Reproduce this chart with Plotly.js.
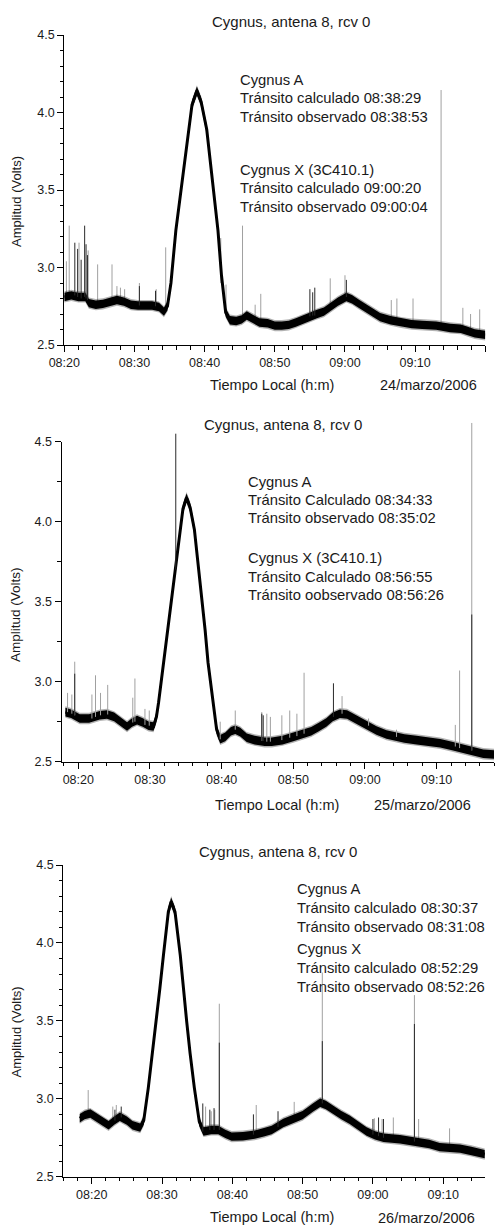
<!DOCTYPE html>
<html><head><meta charset="utf-8">
<script src="https://cdn.plot.ly/plotly-3.0.1.min.js"></script>
<style>html,body{margin:0;padding:0;background:#fff}#chart{width:500px;height:1227px}</style>
</head><body><div id="chart"></div>
<script>
// ---- Data (time = minutes after 08:00 local, amplitude in volts) ----
// Panel 1: 24/marzo/2006
const T1 = [20.0,21.0,22.0,23.0,23.5,24.5,25.5,26.5,27.5,28.5,29.5,30.5,31.5,32.5,33.5,34.2,34.7,35.2,35.9,36.5,37.0,37.7,38.2,38.9,39.5,40.3,41.0,41.9,42.4,43.0,43.6,44.5,45.3,46.0,46.8,47.8,49.0,50.0,51.0,52.0,53.0,54.0,55.0,56.0,57.0,58.0,59.0,60.2,61.0,62.0,63.5,65.0,66.5,68.0,69.5,71.0,73.0,75.0,76.5,77.5,78.5,80.0];
const V1 = [2.81,2.82,2.81,2.81,2.77,2.76,2.765,2.78,2.79,2.78,2.76,2.755,2.755,2.755,2.745,2.715,2.75,2.90,3.24,3.45,3.62,3.89,4.05,4.14,4.07,3.89,3.62,3.24,2.95,2.71,2.66,2.655,2.665,2.69,2.67,2.645,2.64,2.625,2.625,2.63,2.645,2.665,2.685,2.70,2.715,2.745,2.78,2.81,2.795,2.765,2.725,2.68,2.66,2.645,2.635,2.63,2.625,2.61,2.605,2.59,2.575,2.565];
const SPIKE1_T  = [20.3,20.7,22.1,23.4,24.75,26.8,27.5,28.0,28.6,30.7,33.1,34.45,42.3,43.05,45.4,47.2,48.0,57.9,60.0,66.6,67.4,69.7,73.7,76.8,77.9,79.2];
const SPIKE1_LO = [2.81,2.82,2.81,2.78,2.76,2.78,2.79,2.79,2.78,2.755,2.75,2.73,2.90,2.71,2.665,2.65,2.645,2.74,2.81,2.66,2.65,2.635,2.625,2.605,2.59,2.57];
const SPIKE1_HI = [3.04,3.27,3.16,3.11,3.02,3.02,2.88,2.87,2.86,2.90,2.86,3.13,3.19,2.89,3.27,2.76,2.83,2.93,2.95,2.79,2.80,2.80,4.145,2.74,2.70,2.73];
const DARK1_T  = [21.5,21.9,22.4,22.9,23.1,23.3,30.7,33.0,55.0,55.4,55.7,60.2];
const DARK1_LO = [2.82,2.81,2.80,2.81,2.80,2.79,2.755,2.75,2.685,2.69,2.69,2.81];
const DARK1_HI = [3.16,3.12,3.05,3.27,3.15,3.08,2.88,2.85,2.86,2.84,2.87,2.92];

// Panel 2: 25/marzo/2006
const T2 = [18.2,19.0,20.2,21.5,23.0,24.0,25.0,26.0,26.8,27.5,28.2,29.0,29.8,30.5,30.9,31.2,31.9,32.4,33.0,33.6,34.2,34.6,35.1,35.6,36.2,36.7,37.2,37.7,38.1,38.8,39.3,39.8,40.5,41.3,41.9,42.6,43.5,44.6,46.0,47.0,48.5,50.0,51.5,52.5,53.5,54.6,55.5,56.5,57.5,58.5,59.5,60.5,61.6,63.0,64.0,65.5,67.2,69.0,70.5,72.0,73.3,75.1,76.5,78.0];
const V2 = [2.81,2.80,2.77,2.77,2.79,2.795,2.78,2.745,2.72,2.745,2.76,2.745,2.725,2.72,2.78,2.87,3.12,3.32,3.53,3.76,3.95,4.08,4.15,4.09,3.95,3.75,3.53,3.32,3.12,2.87,2.70,2.64,2.655,2.69,2.70,2.685,2.65,2.635,2.625,2.625,2.635,2.655,2.675,2.69,2.715,2.745,2.78,2.80,2.795,2.77,2.75,2.725,2.695,2.67,2.66,2.645,2.635,2.625,2.615,2.60,2.585,2.565,2.55,2.545];
const SPIKE2_T  = [18.5,19.1,19.5,21.9,22.4,23.1,24.1,27.6,27.9,29.3,29.9,39.8,41.9,45.6,46.3,46.8,48.4,49.5,50.5,51.5,56.8,60.5,64.4,72.6,73.2,74.9];
const SPIKE2_LO = [2.81,2.80,2.79,2.77,2.78,2.79,2.795,2.745,2.75,2.73,2.725,2.64,2.70,2.63,2.625,2.625,2.635,2.65,2.66,2.675,2.80,2.725,2.655,2.595,2.585,2.57];
const SPIKE2_HI = [2.93,2.92,3.125,2.92,3.04,2.93,2.98,2.90,3.02,2.83,2.82,2.75,2.82,2.81,2.80,2.78,2.79,2.82,2.80,3.056,2.91,2.77,2.70,2.73,3.07,4.617];
const DARK2_T  = [19.5,33.6,45.6,45.8,55.6,74.9];
const DARK2_LO = [2.79,3.70,2.63,2.63,2.78,2.57];
const DARK2_HI = [3.05,4.55,2.80,2.79,2.99,3.42];

// Panel 3: 26/marzo/2006
const T3 = [18.3,19.0,19.8,21.0,22.4,23.2,24.0,25.0,25.8,26.9,27.4,28.05,28.6,29.25,29.7,30.2,30.9,31.3,31.85,32.6,33.0,33.5,34.0,34.6,35.3,35.9,37.0,38.0,39.0,39.9,41.5,43.2,44.5,45.6,47.25,48.5,50.0,51.5,52.5,53.3,54.3,55.5,56.7,58.0,59.1,60.3,61.5,63.85,66.2,68.0,69.5,71.0,72.4,74.0,75.9];
const V3 = [2.875,2.895,2.905,2.87,2.83,2.86,2.885,2.86,2.83,2.815,2.86,3.07,3.28,3.50,3.71,3.92,4.20,4.265,4.20,3.92,3.71,3.50,3.29,3.07,2.853,2.79,2.80,2.80,2.775,2.757,2.76,2.77,2.785,2.80,2.845,2.87,2.895,2.945,2.975,2.96,2.93,2.895,2.865,2.825,2.79,2.765,2.75,2.74,2.725,2.71,2.69,2.685,2.68,2.665,2.645];
const SPIKE3_T  = [19.5,23.0,23.5,36.2,37.0,37.5,38.15,43.4,48.8,52.8,60.2,61.3,62.9,65.9,66.5,70.9];
const SPIKE3_LO = [2.90,2.86,2.87,2.79,2.80,2.80,2.80,2.77,2.87,2.97,2.765,2.75,2.745,2.725,2.72,2.69];
const SPIKE3_HI = [3.056,2.95,2.96,2.95,2.92,2.93,3.61,2.96,2.98,3.81,2.875,2.87,2.88,3.665,2.87,2.81];
const DARK3_T  = [23.3,24.2,35.8,36.8,37.4,38.15,43.0,46.5,52.8,60.0,60.8,61.5,65.9];
const DARK3_LO = [2.86,2.88,2.79,2.80,2.80,2.80,2.77,2.82,2.97,2.77,2.76,2.75,2.725];
const DARK3_HI = [2.93,2.95,2.97,2.93,2.94,3.36,2.90,2.92,3.37,2.87,2.88,2.87,3.48];

const DAYS = [24, 25, 26];
const TITLE = 'Cygnus, antena 8, rcv 0';
const XTITLE = 'Tiempo Local (h:m)';
const YTITLE = 'Amplitud (Volts)';
const DATES = ['24/marzo/2006', '25/marzo/2006', '26/marzo/2006'];
const NOTES = [
  ['Cygnus A','Tránsito calculado 08:38:29','Tránsito observado 08:38:53','Cygnus X (3C410.1)','Tránsito calculado 09:00:20','Tránsito observado 09:00:04'],
  ['Cygnus A','Tránsito Calculado 08:34:33','Tránsito observado 08:35:02','Cygnus X (3C410.1)','Tránsito Calculado 08:56:55','Tránsito oobservado 08:56:26'],
  ['Cygnus A','Tránsito calculado 08:30:37','Tránsito observado 08:31:08','Cygnus X','Tránsito calculado 08:52:29','Tránsito observado 08:52:26']
];

// ---- helpers ----
function ts(day, m) {
  const ms = Date.UTC(2006, 2, day, 8, 0, 0) + Math.round(m * 60000);
  return new Date(ms).toISOString().replace('T', ' ').slice(0, 23);
}
const OUTER = 0.036, INNER = 0.027; // drawn thickness of the noisy band (style)

function bandTraces(t, v, day, xa, ya) {
  const x = t.map(m => ts(day, m));
  const mk = (off, fill, col) => ({
    type: 'scatter', mode: 'lines', x: x, y: v.map(a => a + off), xaxis: xa, yaxis: ya,
    line: {width: 0, color: col}, fill: fill, fillcolor: col, hoverinfo: 'skip', showlegend: false
  });
  return [
    mk(OUTER, 'none', 'rgba(0,0,0,0.3)'), mk(-OUTER, 'tonexty', 'rgba(0,0,0,0.3)'),
    mk(INNER, 'none', '#000'), mk(-INNER, 'tonexty', '#000'),
    {type: 'scatter', mode: 'lines', x: x, y: v, xaxis: xa, yaxis: ya,
     line: {width: 3, color: '#000'}, hoverinfo: 'skip', showlegend: false}
  ];
}
function spikeTrace(t, lo, hi, day, xa, ya, col, w) {
  const x = [], y = [];
  t.forEach((m, i) => { x.push(ts(day, m), ts(day, m), null); y.push(lo[i], hi[i], null); });
  return {type: 'scatter', mode: 'lines', x: x, y: y, xaxis: xa, yaxis: ya,
          line: {width: w, color: col}, connectgaps: false, hoverinfo: 'skip', showlegend: false};
}

const GREY = '#a0a0a0', DARK = '#2a2a2a';
const data = [
  spikeTrace(SPIKE1_T, SPIKE1_LO, SPIKE1_HI, DAYS[0], 'x', 'y', GREY, 1),
  ...bandTraces(T1, V1, DAYS[0], 'x', 'y'),
  spikeTrace(DARK1_T, DARK1_LO, DARK1_HI, DAYS[0], 'x', 'y', DARK, 1),

  spikeTrace(SPIKE2_T, SPIKE2_LO, SPIKE2_HI, DAYS[1], 'x2', 'y4', GREY, 1),
  ...bandTraces(T2, V2, DAYS[1], 'x2', 'y2'),
  spikeTrace(DARK2_T, DARK2_LO, DARK2_HI, DAYS[1], 'x2', 'y4', DARK, 1),

  spikeTrace(SPIKE3_T, SPIKE3_LO, SPIKE3_HI, DAYS[2], 'x3', 'y3', GREY, 1),
  ...bandTraces(T3, V3, DAYS[2], 'x3', 'y3'),
  spikeTrace(DARK3_T, DARK3_LO, DARK3_HI, DAYS[2], 'x3', 'y3', DARK, 1)
];

// ---- layout ----
const W = 500, H = 1227;
const px = p => p / W, py = p => 1 - p / H;
const FONT = 'Liberation Sans, Arial, Helvetica, sans-serif';
const TXT = '#1a1a1a';

function xAxis(day, r0, r1, dom, anchor) {
  return {
    type: 'date', domain: dom, anchor: anchor, range: [ts(day, r0), ts(day, r1)],
    tickformat: '%H:%M', dtick: 600000, tick0: ts(day, 0),
    ticks: 'outside', ticklen: 6, tickwidth: 1, tickcolor: '#000',
    minor: {dtick: 120000, tick0: ts(day, 0), ticks: 'outside', ticklen: 3.5, tickwidth: 1, tickcolor: '#000', showgrid: false},
    showline: true, linecolor: '#000', linewidth: 1.2, showgrid: false, zeroline: false,
    tickfont: {family: FONT, size: 12.5, color: TXT}, fixedrange: true
  };
}
function yAxis(dom, anchor, minorStep) {
  return {
    domain: dom, anchor: anchor, range: [2.5, 4.5], dtick: 0.5, tick0: 2.5, tickformat: '.1f',
    ticks: 'outside', ticklen: 6, tickwidth: 1, tickcolor: '#000',
    minor: {dtick: minorStep, ticks: 'outside', ticklen: 3.5, tickwidth: 1, tickcolor: '#000', showgrid: false},
    showline: true, linecolor: '#000', linewidth: 1.2, showgrid: false, zeroline: false,
    tickfont: {family: FONT, size: 12.5, color: TXT}, fixedrange: true
  };
}

const annotations = [];
function txt(x, y, s, size, anchor, angle) {
  annotations.push({xref: 'paper', yref: 'paper', x: px(x), y: py(y), text: s, showarrow: false,
    xanchor: anchor || 'left', yanchor: 'middle', textangle: angle || 0, borderpad: 0,
    font: {family: FONT, size: size, color: TXT}});
}
// titles
txt(290.8, 21.7, TITLE, 15, 'center');
txt(282.5, 424, TITLE, 15, 'center');
txt(278.3, 851.7, TITLE, 15, 'center');
// x titles and dates
txt(271.7, 385, XTITLE, 14.5, 'center'); txt(428.3, 385, DATES[0], 14.5, 'center');
txt(277, 805, XTITLE, 14.5, 'center'); txt(422.5, 805, DATES[1], 14.5, 'center');
txt(272, 1217, XTITLE, 14.5, 'center'); txt(426.7, 1218, DATES[2], 14.5, 'center');
// y titles
txt(17, 202, YTITLE, 13, 'center', -90);
txt(15, 615, YTITLE, 13.5, 'center', -90);
txt(16.7, 1031.7, YTITLE, 13, 'center', -90);
// notes
const noteY = [[80,98.3,117.3,170,188.3,206.7],[481.7,500,518.3,558.3,576.7,595],[889.3,908.3,926.7,949.3,968.3,987.3]];
const noteX = [239, 247, 295.7];
NOTES.forEach((lines, p) => lines.forEach((s, i) => txt(noteX[p], noteY[p][i], s, 14.8, 'left')));

const layout = {
  width: W, height: H, margin: {l: 0, r: 0, t: 0, b: 0},
  paper_bgcolor: '#fff', plot_bgcolor: 'rgba(0,0,0,0)', showlegend: false,
  xaxis: xAxis(DAYS[0], 20.0, 80.0, [px(64.3), px(485.3)], 'y'),
  yaxis: yAxis([py(345), py(35)], 'x', 0.1),
  xaxis2: xAxis(DAYS[1], 17.684, 78.0, [px(61.7), px(494)], 'y2'),
  yaxis2: yAxis([py(761.7), py(441.7)], 'x2', 0.25),
  xaxis3: xAxis(DAYS[2], 15.96, 75.94, [px(63.3), px(485)], 'y3'),
  yaxis3: yAxis([py(1176.7), py(865)], 'x3', 0.1),
  // same scale as yaxis2, taller window so the tall spikes can rise above 4.5
  yaxis4: {domain: [py(761.7), py(417.7)], anchor: 'x2', range: [2.5, 4.65], visible: false, fixedrange: true},
  annotations: annotations
};

Plotly.newPlot('chart', data, layout, {displayModeBar: false, staticPlot: true});
</script>
</body></html>
